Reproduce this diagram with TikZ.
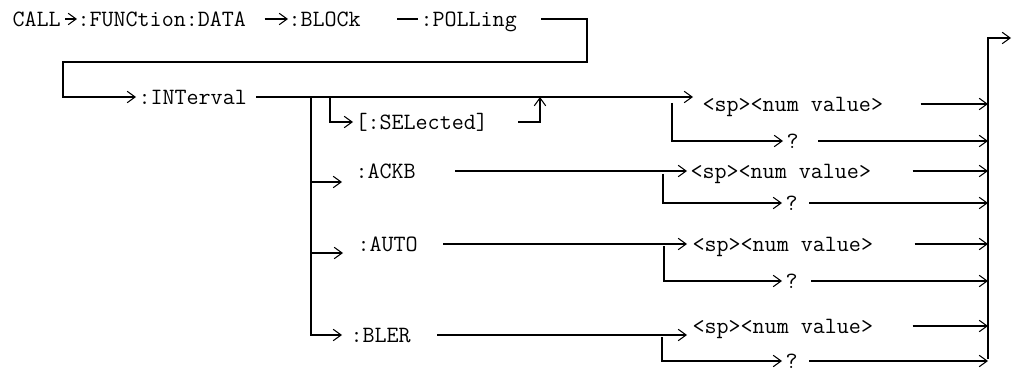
\documentclass[tikz,border=0pt]{standalone}
\usetikzlibrary{arrows.meta}
\tikzset{
	kw/.style={font=\ttfamily\fontsize{13.3}{16}\selectfont, inner sep=0pt, text height=8.1pt, text depth=0pt, anchor=west},
	arr/.style={-{Straight Barb[length=4.5pt,width=6.5pt]}},
}
\begin{document}
	\begin{tikzpicture}[x=0.02cm,y=-0.02cm,line width=0.6pt]
		\useasboundingbox (0,0) rectangle (1013,371);
		% keywords
		\node[kw] (call) at (12,19) {CALL};
		\node[kw] (func) at (77,19) {:FUNCtion:DATA};
		\node[kw] (block) at (288,19) {:BLOCk};
		\node[kw] (poll) at (420,19) {:POLLing};
		\node[kw] (intv) at (138,97) {:INTerval};
		\node[kw] (sel) at (355,122) {[:SELected]};
		\node[kw] (ackb) at (355,171) {:ACKB};
		\node[kw] (auto) at (357,244) {:AUTO};
		\node[kw] (bler) at (350,335) {:BLER};
		\node[kw] (num1) at (702,104) {<sp><num value>};
		\node[kw] (q1) at (786,141) {?};
		\node[kw] (num2) at (690,171) {<sp><num value>};
		\node[kw] (q2) at (785,203) {?};
		\node[kw] (num3) at (692,244) {<sp><num value>};
		\node[kw] (q3) at (785,281) {?};
		\node[kw] (num4) at (692,326) {<sp><num value>};
		\node[kw] (q4) at (785,361) {?};
		% bends and rails
		\coordinate (c1) at (587,19);
		\coordinate (c2) at (587,62);
		\coordinate (c3) at (63,62);
		\coordinate (r0) at (311,97);
		\coordinate (ra) at (311,182);
		\coordinate (rb) at (311,253);
		\coordinate (s0) at (330,97);
		\coordinate (s1) at (540,97);
		\coordinate (q1a) at (672,103);
		\coordinate (q2a) at (663,174);
		\coordinate (q3a) at (664,246);
		\coordinate (q4a) at (662,337);
		\coordinate (e0) at (988,38);
		\coordinate (e1) at (988,359);
		\coordinate (out) at (1011,38);
		% header chain
		\draw[arr,shorten <=0.08cm] (call) -- (func);
		\draw[arr,shorten <=0.36cm] (func) -- (block);
		\draw[shorten <=0.72cm,shorten >=0.04cm] (block) -- (poll);
		\draw[arr,shorten <=0.48cm,shorten >=0.04cm] (poll) -- (c1) -- (c2) -- (c3) |- (intv);
		% interval branches
		\draw[arr,shorten <=0.18cm,shorten >=0.18cm] (intv) -- (intv -| num1.west);
		\draw[arr,shorten >=0.16cm] (r0) |- (bler);
		\draw[arr,shorten >=0.26cm] (ra) -- (ra -| ackb.west);
		\draw[arr,shorten >=0.28cm] (rb) -- (rb -| auto.west);
		\draw[arr,shorten >=0.04cm] (s0) |- (sel);
		\draw[arr,shorten <=0.6cm] (sel) -| (s1);
		% value groups
		\draw[arr,shorten <=0.78cm,shorten >=0.06cm] (ackb) -- (num2);
		\draw[arr,shorten <=0.5cm,shorten >=0.1cm] (auto) -- (num3);
		\draw[arr,shorten <=0.52cm,shorten >=0.1cm] (bler) -- (bler -| num4.west);
		\draw[arr,shorten >=0.06cm] (q1a) |- (q1);
		\draw[arr,shorten >=0.06cm] (q2a) |- (q2);
		\draw[arr,shorten >=0.06cm] (q3a) |- (q3);
		\draw[arr,shorten >=0.06cm] (q4a) |- (q4);
		% exits
		\draw[arr,shorten <=0.74cm] (num1) -- (num1 -| e0);
		\draw[arr,shorten <=0.82cm] (num2) -- (num2 -| e0);
		\draw[arr,shorten <=0.82cm] (num3) -- (num3 -| e0);
		\draw[arr,shorten <=0.78cm] (num4) -- (num4 -| e0);
		\draw[arr,shorten <=0.38cm] (q1) -- (q1 -| e0);
		\draw[arr,shorten <=0.22cm] (q2) -- (q2 -| e0);
		\draw[arr,shorten <=0.26cm] (q3) -- (q3 -| e0);
		\draw[arr,shorten <=0.22cm] (q4) -- (q4 -| e0);
		\draw[arr] (e1) -- (e0) -- (out);
	\end{tikzpicture}
\end{document}
